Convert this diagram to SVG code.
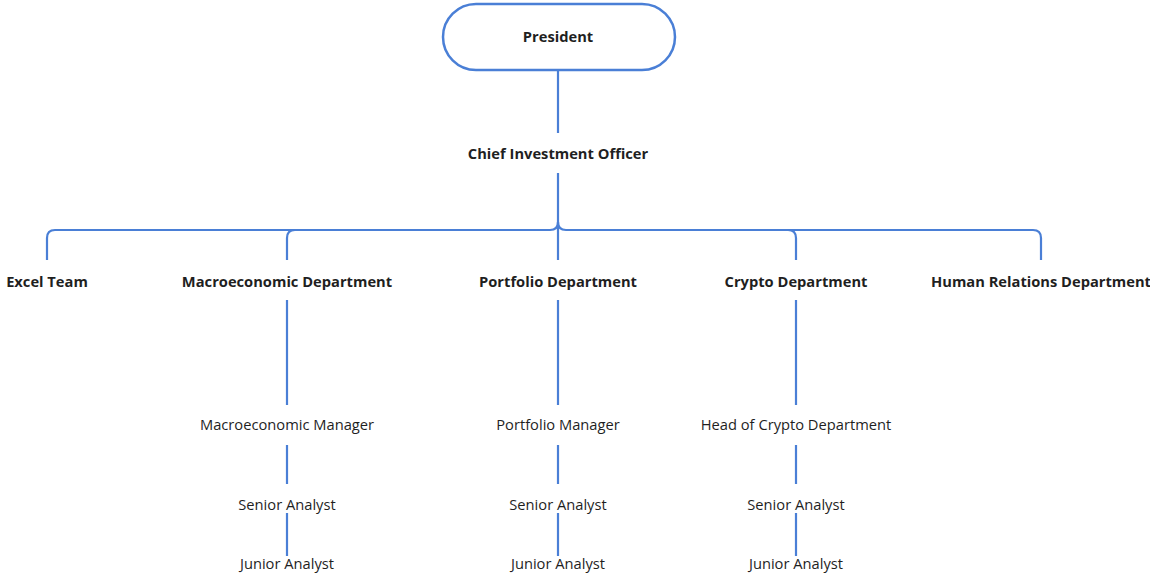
<svg xmlns="http://www.w3.org/2000/svg" width="1150" height="574" viewBox="0 0 1150 574">
  <style>
    .bg { fill: #ffffff; }
    .link { fill: none; stroke: #4a7fd6; stroke-width: 2.2; stroke-linecap: butt; }
    .pill { fill: #ffffff; stroke: #4a7fd6; stroke-width: 2.5; }
    .t { font-family: "Open Sans", "Liberation Sans", sans-serif; font-size: 14.7px; fill: #1f1f1f; text-anchor: middle; }
    .b { font-weight: 700; }
  </style>
  <rect class="bg" x="0" y="0" width="1150" height="574"/>

  <!-- connectors -->
  <g id="connectors">
    <line class="link" x1="558" y1="70" x2="558" y2="133"/>
    <line class="link" x1="558" y1="173" x2="558" y2="260"/>
    <!-- horizontal bus with rounded drops -->
    <path class="link" d="M47 260 V238 Q47 230 55 230 H550 Q558 230 558 222"/>
    <path class="link" d="M558 222 Q558 230 566 230 H1033 Q1041 230 1041 238 V260"/>
    <path class="link" d="M287 260 V238 Q287 230 295 230"/>
    <path class="link" d="M796 260 V238 Q796 230 788 230"/>
    <!-- department columns -->
    <line class="link" x1="287" y1="300" x2="287" y2="405"/>
    <line class="link" x1="287" y1="445" x2="287" y2="484"/>
    <line class="link" x1="287" y1="513" x2="287" y2="556"/>
    <line class="link" x1="558" y1="300" x2="558" y2="405"/>
    <line class="link" x1="558" y1="445" x2="558" y2="484"/>
    <line class="link" x1="558" y1="513" x2="558" y2="556"/>
    <line class="link" x1="796" y1="300" x2="796" y2="405"/>
    <line class="link" x1="796" y1="445" x2="796" y2="484"/>
    <line class="link" x1="796" y1="513" x2="796" y2="556"/>
  </g>

  <g id="president">
    <rect class="pill" x="443" y="4" width="232" height="66" rx="33" ry="33"/>
    <text class="t b" x="558" y="42">President</text>
  </g>
  <g id="cio"><text class="t b" x="558" y="159">Chief Investment Officer</text></g>

  <g id="excel-team"><text class="t b" x="47" y="287">Excel Team</text></g>
  <g id="macro-dept"><text class="t b" x="287" y="287">Macroeconomic Department</text></g>
  <g id="portfolio-dept"><text class="t b" x="558" y="287">Portfolio Department</text></g>
  <g id="crypto-dept"><text class="t b" x="796" y="287">Crypto Department</text></g>
  <g id="hr-dept"><text class="t b" x="1041" y="287">Human Relations Department</text></g>

  <g id="macro-manager"><text class="t" x="287" y="430">Macroeconomic Manager</text></g>
  <g id="macro-senior"><text class="t" x="287" y="510">Senior Analyst</text></g>
  <g id="macro-junior"><text class="t" x="287" y="569">Junior Analyst</text></g>

  <g id="portfolio-manager"><text class="t" x="558" y="430">Portfolio Manager</text></g>
  <g id="portfolio-senior"><text class="t" x="558" y="510">Senior Analyst</text></g>
  <g id="portfolio-junior"><text class="t" x="558" y="569">Junior Analyst</text></g>

  <g id="crypto-head"><text class="t" x="796" y="430">Head of Crypto Department</text></g>
  <g id="crypto-senior"><text class="t" x="796" y="510">Senior Analyst</text></g>
  <g id="crypto-junior"><text class="t" x="796" y="569">Junior Analyst</text></g>
</svg>
